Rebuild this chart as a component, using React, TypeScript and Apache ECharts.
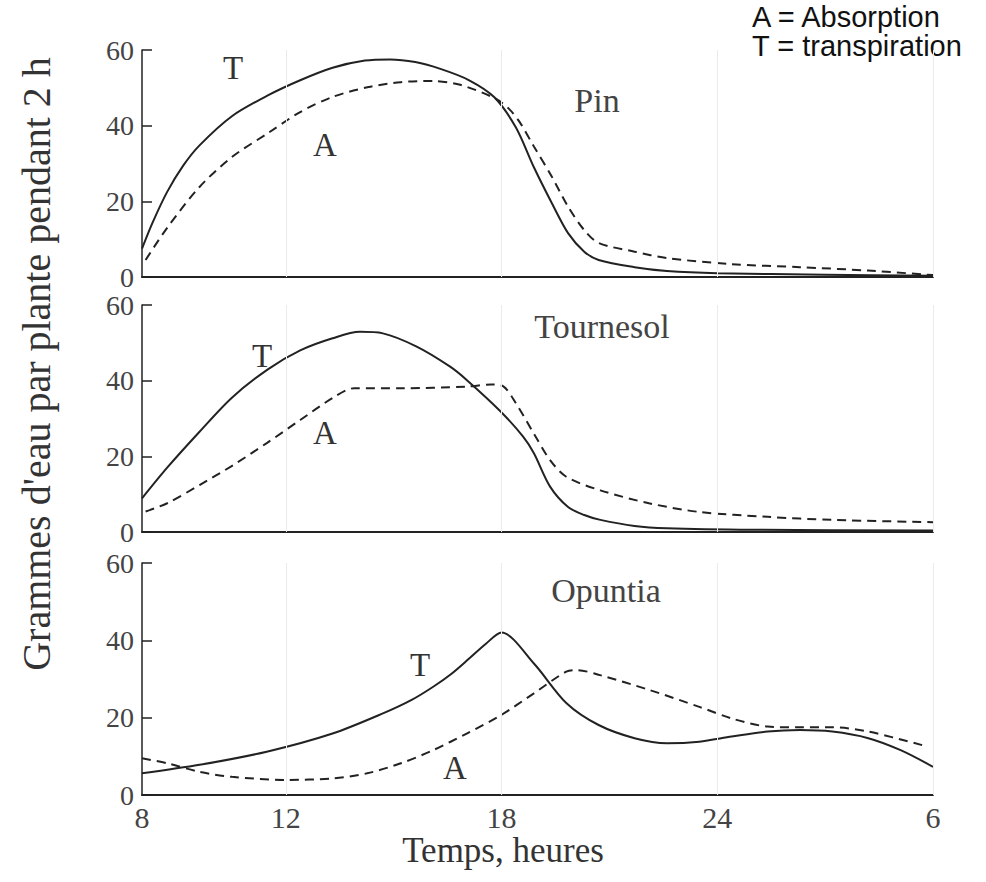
import React, { useEffect, useRef } from 'react';
import * as echarts from 'echarts';

// ---- data (hours of day; 30 = 6 h next morning) ----
const hourTicks = [8, 12, 18, 24, 30];
const hourTickLabels = ['8', '12', '18', '24', '6'];
const faintGridHours = [12, 18, 24, 30];
const panelNames = ['Pin', 'Tournesol', 'Opuntia'];
const legendLines = ['A = Absorption', 'T = transpiration'];

const pinT: number[][] = [
  [8, 7.5], [8.3, 14.5], [8.7, 22.5], [9.15, 29.5], [9.6, 34.8], [10.5, 42.5], [11.5, 48],
  [12.4, 52], [13.3, 55.3], [14.2, 57.2], [14.9, 57.5], [15.6, 56.8], [16.3, 55], [17.1, 52],
  [17.8, 47.5], [18.4, 39.5], [18.9, 29], [19.4, 19.5], [19.85, 11.6], [20.3, 6.7],
  [20.7, 4.5], [21.7, 2.6], [22.6, 1.6], [24, 1], [27, 0.6], [30, 0.3],
];
const pinA: number[][] = [
  [8.1, 4.5], [8.7, 13], [9.6, 23.8], [10.5, 31.7], [11.5, 38], [12.4, 43.6], [13.3, 47.6],
  [14.3, 50.2], [15.2, 51.5], [16.1, 51.8], [16.85, 50.8], [17.8, 47.3], [18.2, 44.5],
  [18.5, 41], [18.9, 34.5], [19.4, 26.5], [19.85, 18.6], [20.3, 12.4], [20.7, 9],
  [21.7, 6.7], [22.6, 5], [24.4, 3.4], [26.3, 2.6], [28.2, 1.7], [30, 0.5],
];
const tourT: number[][] = [
  [8, 8.9], [8.7, 17], [9.6, 26.5], [10.5, 35.5], [11.5, 43], [12.4, 48], [13.3, 51.2],
  [14.06, 52.9], [14.7, 52.5], [15.64, 49], [16.57, 43.7], [17.03, 40.2], [17.96, 32],
  [18.6, 25.2], [18.9, 20.8], [19.35, 12], [19.85, 6.6], [20.3, 4.5], [20.75, 3.2],
  [21.7, 1.6], [22.6, 1], [25, 0.6], [30, 0.4],
];
const tourA: number[][] = [
  [8.1, 5.4], [8.7, 7.6], [9.6, 12.4], [10.54, 17.7], [11.47, 23.5], [12.4, 29.6],
  [13.3, 35.4], [13.9, 38], [15.2, 38], [17, 38.4], [17.7, 39], [18.05, 38.5], [18.4, 34],
  [18.9, 26], [19.35, 19], [19.8, 14.6], [20.75, 11], [22.1, 7.6], [23.5, 5.3],
  [25.4, 4], [27.2, 3.2], [30, 2.6],
];
const opunT: number[][] = [
  [8, 5.6], [9.6, 7.8], [11.47, 11.2], [13.3, 15.9], [14.7, 21.1], [15.5, 24.6], [16.1, 28],
  [16.6, 31.3], [17.1, 35.3], [17.55, 39], [18, 42], [18.9, 34], [19.8, 23.8], [20.7, 18.1],
  [21.7, 14.7], [22.6, 13.4], [23.5, 13.8], [24.4, 15.1], [25.4, 16.4], [26.3, 16.8],
  [27.2, 16.4], [28.2, 14.7], [29.1, 11.6], [30, 7.3],
];
const opunA: number[][] = [
  [8, 9.5], [8.7, 8.2], [9.6, 6], [10.5, 4.7], [12, 3.9], [13.3, 4.3], [14.26, 5.6],
  [15.2, 8.2], [16.1, 11.6], [17.03, 15.9], [17.96, 20.5], [18.9, 26.3], [19.8, 31.9],
  [20.1, 32.3], [20.74, 31], [22.1, 27.2], [23.5, 22.8], [24.4, 19.8], [25.4, 17.7],
  [26.3, 17.5], [27.2, 17.5], [28.2, 16.4], [29.7, 12.9],
];

const transpiration = [pinT, tourT, opunT];
const absorption = [pinA, tourA, opunA];

const SERIF = 'Liberation Serif, Times New Roman, serif';
const SANS = 'Liberation Sans, Arial, sans-serif';
const INK = '#222';

export default function App() {
  const ref = useRef<HTMLDivElement>(null);
  useEffect(() => {
    if (!ref.current) return;
    const chart = echarts.init(ref.current, null, { renderer: 'svg' });

    const grids = [
      { left: 142, width: 791, top: 50, height: 227 },
      { left: 142, width: 791, top: 305, height: 227 },
      { left: 142, width: 791, top: 563, height: 232 },
    ];

    const xAxes = grids.map((_, i) => ({
      type: 'value',
      gridIndex: i,
      min: 8,
      max: 30,
      interval: 2,
      axisLine: { show: true, onZero: false, lineStyle: { color: INK, width: 2 } },
      axisTick: { show: false },
      splitLine: { show: false },
      axisLabel: {
        show: i === 2,
        margin: 7,
        fontSize: 30,
        fontFamily: SERIF,
        color: '#444',
        formatter: (v: number) => {
          const k = hourTicks.indexOf(v);
          return k >= 0 ? hourTickLabels[k] : '';
        },
      },
    }));

    const yAxes = grids.map((_, i) => ({
      type: 'value',
      gridIndex: i,
      min: 0,
      max: 60,
      interval: 20,
      axisLine: { show: true, lineStyle: { color: INK, width: 1.5 } },
      axisTick: { show: true, inside: true, length: 10, lineStyle: { color: INK, width: 1.5 } },
      splitLine: { show: false },
      axisLabel: { margin: 8, fontSize: 28, fontFamily: SERIF, color: '#444' },
    }));

    const series: any[] = [];
    for (let i = 0; i < 3; i++) {
      series.push({
        type: 'line',
        xAxisIndex: i,
        yAxisIndex: i,
        data: transpiration[i],
        smooth: 0.3,
        symbol: 'none',
        lineStyle: { color: INK, width: 2 },
        markLine: {
          silent: true,
          symbol: 'none',
          label: { show: false },
          lineStyle: { color: '#ebebeb', width: 1, type: 'solid' },
          data: faintGridHours.map((h) => ({ xAxis: h })),
        },
        z: 3,
      });
      series.push({
        type: 'line',
        xAxisIndex: i,
        yAxisIndex: i,
        data: absorption[i],
        smooth: 0.3,
        symbol: 'none',
        lineStyle: { color: INK, width: 2, type: [9, 6] },
        z: 3,
      });
    }

    const letter = (text: string, x: number, y: number) => ({
      type: 'text',
      x,
      y,
      style: { text, fontSize: 33, fontFamily: SERIF, fill: '#333', textAlign: 'center', textVerticalAlign: 'middle' },
    });
    const title = (text: string, x: number, y: number) => ({
      type: 'text',
      x,
      y,
      style: { text, fontSize: 34, fontFamily: SERIF, fill: '#444', textAlign: 'center', textVerticalAlign: 'middle' },
    });
    const legendText = (text: string, y: number) => ({
      type: 'text',
      x: 752,
      y,
      style: { text, fontSize: 29, fontFamily: SANS, fill: '#111', textAlign: 'left', textVerticalAlign: 'middle' },
    });

    chart.setOption({
      animation: false,
      backgroundColor: '#fff',
      grid: grids,
      xAxis: xAxes,
      yAxis: yAxes,
      series,
      graphic: [
        letter('T', 233, 68),
        letter('A', 325, 145),
        title(panelNames[0], 597, 100),
        letter('T', 262, 356),
        letter('A', 325, 433),
        title(panelNames[1], 602, 326),
        letter('T', 420, 665),
        letter('A', 455, 768),
        title(panelNames[2], 606, 590),
        {
          type: 'text',
          x: 503,
          y: 850,
          style: { text: 'Temps, heures', fontSize: 35, fontFamily: SERIF, fill: '#333', textAlign: 'center', textVerticalAlign: 'middle' },
        },
        {
          type: 'text',
          x: 36,
          y: 364,
          rotation: Math.PI / 2,
          style: { text: "Grammes d'eau par plante pendant 2 h", fontSize: 40, fontFamily: SERIF, fill: '#333', textAlign: 'center', textVerticalAlign: 'middle' },
        },
        legendText(legendLines[0], 16.5),
        legendText(legendLines[1], 45.5),
      ],
    });
    return () => chart.dispose();
  }, []);
  return <div ref={ref} style={{ position: 'fixed', left: 0, top: 0, width: 986, height: 882 }} />;
}
